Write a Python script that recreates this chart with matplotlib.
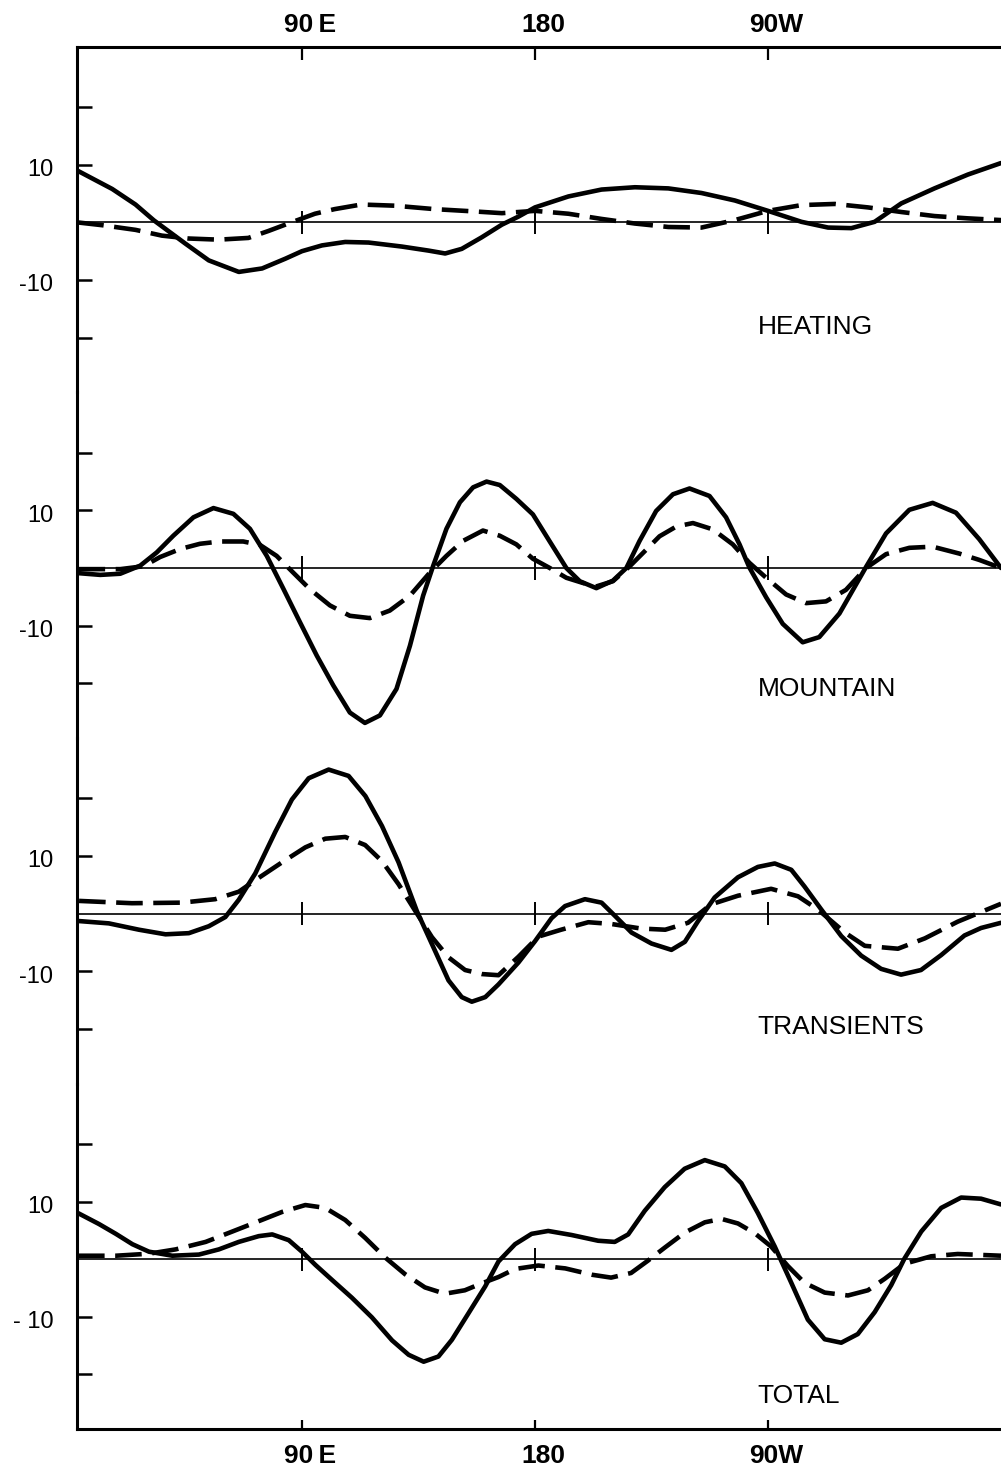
import matplotlib
matplotlib.use("Agg")
import matplotlib.pyplot as plt
from matplotlib.transforms import ScaledTranslation

plt.rcParams['font.family'] = ['Liberation Sans', 'DejaVu Sans']

# ---- axis annotations -------------------------------------------------
lon_ticks = [90, 180, 270]
lon_labels = ['90\u2009E', '180', '90W']
panel_names = ['HEATING', 'MOUNTAIN', 'TRANSIENTS', 'TOTAL']
y_ticks = [-20, -10, 10, 20]
y_labels = ['', '-10', '10', '']
y_labels_bottom = ['', '- 10', '10', '']

# ---- HEATING -----------------------------------------------------------
heating_solid_lon = [3.2, 16.7, 25.7, 32.8, 45, 54, 65.6, 74.6, 83.6, 90,
                     97.7, 106.7, 115.7, 128.6, 138.9, 145.3, 151.7, 159.4, 167.2, 173.6,
                     180, 192.9, 205.7, 218.6, 231.5, 244.3, 257.2, 270, 282.9, 293.2,
                     302.2, 311.2, 321.5, 334.3, 347.2, 360]
heating_solid = [9.0, 5.8, 3.1, 0.35, -3.7, -6.6, -8.6, -8.0, -6.3, -5.0,
                 -4.0, -3.4, -3.5, -4.2, -4.9, -5.4, -4.6, -2.6, -0.4, 1.0,
                 2.6, 4.5, 5.7, 6.1, 5.9, 5.1, 3.8, 2.0, 0.1, -0.9,
                 -1.0, 0.1, 3.3, 5.9, 8.3, 10.3]
heating_dashed_lon = [3.2, 13, 25.7, 35.9, 46.2, 57.8, 69.3, 77, 84.7, 95,
                      102.6, 112.9, 125.7, 141.2, 156.6, 167.2, 180, 192.9, 205.7, 218.6,
                      231.5, 244.3, 257.2, 270, 282.9, 295.8, 308.6, 321.5, 334.3, 347.2,
                      360]
heating_dashed = [0.0, -0.5, -1.3, -2.3, -2.8, -3.0, -2.7, -1.5, -0.2, 1.5,
                  2.3, 3.1, 2.9, 2.3, 1.9, 1.6, 2.0, 1.5, 0.6, -0.2,
                  -0.8, -0.9, 0.4, 2.0, 3.0, 3.2, 2.6, 1.8, 1.1, 0.7,
                  0.4]

# ---- MOUNTAIN ----------------------------------------------------------
mountain_solid_lon = [3.7, 12.1, 19.8, 27.5, 33.9, 40.3, 48.1, 55.8, 63.5, 69.9,
                      76.4, 82.8, 89.2, 95.7, 102.1, 108.5, 114.3, 120.1, 126.5, 131.7,
                      136.8, 140.7, 145.8, 151, 156.1, 161.3, 166.4, 172.8, 179.2, 185.7,
                      192.1, 197.3, 203.7, 210.1, 215.3, 220.4, 226.8, 233.3, 239.7, 247.4,
                      253.8, 259, 262.8, 269.3, 275.7, 283.4, 289.8, 297.6, 307.9, 315.6,
                      324.6, 333.6, 342.6, 351.6, 360]
mountain_solid = [-0.9, -1.2, -1.0, 0.4, 2.7, 5.6, 8.8, 10.4, 9.4, 6.8,
                  2.1, -3.6, -9.4, -15.2, -20.4, -25.1, -26.9, -25.6, -21.0, -13.5,
                  -4.8, 0.4, 6.8, 11.4, 14.0, 15.0, 14.4, 12.0, 9.3, 4.6,
                  0.0, -2.3, -3.5, -2.2, 0.0, 4.7, 9.9, 12.8, 13.8, 12.5,
                  8.8, 4.1, 0.1, -5.1, -9.7, -12.9, -12.0, -7.9, 0.2, 6.0,
                  10.1, 11.3, 9.6, 5.0, 0.0]
mountain_dashed_lon = [3.7, 19.8, 28.8, 35.2, 43, 50.6, 58.3, 67.3, 73.8, 80.2,
                       86.6, 93.1, 100.8, 108.5, 116.2, 123.9, 131.7, 139.4, 145.8, 152.2,
                       159.9, 166.4, 172.8, 179.2, 185.7, 192.1, 198.5, 203.7, 210.1, 216.6,
                       221.7, 228.1, 234.6, 241, 248.7, 256.4, 262.8, 269.3, 277, 284.7,
                       292.4, 300.1, 307.9, 315.6, 324.6, 333.6, 343.9, 351.6, 360]
mountain_dashed = [-0.2, -0.2, 0.3, 1.9, 3.3, 4.2, 4.6, 4.6, 4.0, 2.1,
                   -0.8, -3.7, -6.5, -8.3, -8.7, -7.4, -4.8, -0.8, 2.1, 4.7,
                   6.5, 5.6, 4.1, 1.6, 0.0, -1.7, -2.6, -3.2, -2.3, 0.3,
                   2.6, 5.5, 7.2, 7.8, 6.7, 4.1, 0.9, -1.7, -4.6, -6.1,
                   -5.8, -3.8, 0.0, 2.4, 3.5, 3.7, 2.5, 1.4, 0.0]

# ---- TRANSIENTS --------------------------------------------------------
transients_solid_lon = [3.9, 15.4, 27, 37.3, 46.3, 54, 60.4, 65.6, 72, 79.7,
                        86.1, 92.6, 100.3, 108, 114.5, 120.9, 127.3, 134.4, 140.2, 146.6,
                        151.7, 155.6, 160.8, 165.9, 173.6, 180, 186.4, 191.6, 199.3, 205.7,
                        210.9, 217.3, 225, 232.7, 237.9, 243, 249.4, 258.4, 266.1, 272.6,
                        279, 284.1, 290.6, 298.3, 306, 313.7, 321.4, 329.1, 336.9, 345.9,
                        352.3, 360]
transients_solid = [-1.3, -1.7, -2.8, -3.6, -3.4, -2.2, -0.6, 2.4, 7.0, 14.2,
                    19.8, 23.5, 25.0, 23.9, 20.4, 15.2, 8.9, 0.4, -5.3, -11.6,
                    -14.5, -15.3, -14.5, -12.3, -8.5, -4.8, -0.8, 1.3, 2.5, 1.9,
                    -0.4, -3.3, -5.2, -6.3, -4.9, -1.3, 2.8, 6.3, 8.1, 8.7,
                    7.6, 4.7, 0.7, -3.9, -7.3, -9.6, -10.6, -9.8, -7.2, -3.8,
                    -2.5, -1.6]
transients_dashed_lon = [3.9, 24.3, 43.6, 56.5, 65.6, 73.3, 82.3, 91.3, 99, 106.7,
                         114.4, 120.9, 127.3, 133.7, 140.2, 146.6, 153, 159.5, 165.9, 173.6,
                         181.3, 190.1, 200.6, 209.4, 221, 230.3, 239.1, 248, 258.4, 271.2,
                         281.6, 289.3, 299.7, 307.4, 320.2, 330.6, 343.3, 360]
transients_dashed = [2.2, 1.8, 1.9, 2.5, 3.8, 6.2, 8.9, 11.5, 13.0, 13.3,
                     11.9, 9.1, 5.1, 0.5, -4.1, -7.6, -9.8, -10.5, -10.7, -7.5,
                     -4.0, -2.8, -1.5, -1.8, -2.6, -2.8, -1.6, 1.6, 3.1, 4.3,
                     3.0, 0.7, -3.3, -5.6, -6.1, -4.3, -1.4, 1.7]

# ---- TOTAL -------------------------------------------------------------
total_solid_lon = [3.5, 11.6, 18.1, 24.5, 30.9, 39.9, 50.2, 57.9, 65.6, 73.3,
                   78.5, 84.9, 90, 95.2, 101.6, 109.3, 117, 124.8, 131.2, 137,
                   142.7, 147.9, 154.3, 160.8, 165.9, 172.3, 178.7, 185.1, 194.1, 204.4,
                   210.8, 216, 222.4, 230.1, 237.8, 245.6, 253.3, 259.7, 266.1, 272.6,
                   279, 285.4, 291.9, 298.3, 304.7, 311.2, 317.6, 322.7, 329.2, 336.9,
                   344.6, 352.3, 360]
total_solid = [8.0, 6.1, 4.4, 2.6, 1.3, 0.6, 0.8, 1.7, 3.0, 4.0,
               4.3, 3.3, 1.3, -1.0, -3.6, -6.7, -10.1, -14.1, -16.6, -17.8,
               -16.9, -14.0, -9.4, -4.7, -0.4, 2.6, 4.4, 4.9, 4.2, 3.2,
               3.0, 4.3, 8.4, 12.5, 15.7, 17.2, 16.1, 13.2, 8.0, 2.2,
               -4.1, -10.5, -13.9, -14.5, -13.0, -9.2, -4.5, 0.1, 4.8, 8.9,
               10.7, 10.5, 9.5]
total_dashed_lon = [3.5, 18.1, 30.9, 41.2, 52.8, 63.1, 73.3, 82.3, 91.3, 99,
                    106.7, 114.4, 122.1, 129.8, 137.5, 145.2, 152.9, 159.4, 165.9, 172.3,
                    181.3, 191.7, 202, 209.4, 217.1, 223.5, 230.1, 237.8, 245.6, 252,
                    258.4, 264.9, 271.2, 277.7, 284.1, 291.9, 300.9, 308.6, 315.1, 322.7,
                    333, 343.3, 360]
total_dashed = [0.6, 0.6, 0.95, 1.7, 3.0, 4.8, 6.6, 8.2, 9.4, 8.9,
                6.8, 3.7, 0.3, -2.6, -4.9, -6.0, -5.4, -4.2, -3.1, -1.7,
                -1.1, -1.6, -2.7, -3.2, -2.4, -0.3, 2.0, 4.6, 6.4, 7.0,
                6.2, 4.5, 2.2, -1.2, -4.1, -5.8, -6.3, -5.4, -3.4, -0.8,
                0.5, 0.9, 0.6]

panels = [
    (heating_solid_lon, heating_solid, heating_dashed_lon, heating_dashed),
    (mountain_solid_lon, mountain_solid, mountain_dashed_lon, mountain_dashed),
    (transients_solid_lon, transients_solid, transients_dashed_lon, transients_dashed),
    (total_solid_lon, total_solid, total_dashed_lon, total_dashed),
]
name_y = [-18.2, -21.0, -19.7, -23.7]

# ---- figure layout: four stacked panels sharing one frame --------------
W, H = 1001, 1476
fig = plt.figure(figsize=(W / 100, H / 100), dpi=100)
left = 77 / W
top = 1 - 46.7 / H
ph = 345.6 / H

xshift = ScaledTranslation(8 / 100, 0, fig.dpi_scale_trans)
yshift = ScaledTranslation(0, -3 / 100, fig.dpi_scale_trans)

for i, (sl, sv, dl, dv) in enumerate(panels):
    ax = fig.add_axes([left, top - (i + 1) * ph, 1 - left, ph])
    ax.set_facecolor('none')
    ax.set_xlim(3.1, 360)
    ax.set_ylim(-29.5, 30.5)

    ax.spines['right'].set_visible(False)
    ax.spines['top'].set_visible(i == 0)
    ax.spines['bottom'].set_visible(i == 3)
    for s in ax.spines.values():
        s.set_linewidth(2.2)

    # zero line with longitude crosses
    ax.axhline(0, color='black', lw=1.2, zorder=1)
    ax.vlines(lon_ticks, -2.0, 2.0, color='black', lw=1.4, zorder=1)

    ax.plot(sl, sv, color='black', lw=3.3, solid_joinstyle='round',
            solid_capstyle='round', zorder=3)
    ax.plot(dl, dv, color='black', lw=3.3, linestyle=(0, (5.8, 2.3)),
            dash_joinstyle='round', zorder=3)

    ax.set_yticks(y_ticks)
    ax.set_yticklabels(y_labels_bottom if i == 3 else y_labels)
    ax.tick_params(axis='y', direction='in', length=10.8, width=1.8,
                   pad=17, labelsize=17, right=False)
    for lab in ax.get_yticklabels():
        lab.set_transform(lab.get_transform() + yshift)

    if i == 0:
        ax.set_xticks(lon_ticks)
        ax.set_xticklabels(lon_labels)
        ax.tick_params(axis='x', direction='in', length=9.4, width=1.6,
                       top=True, bottom=False, labeltop=True, labelbottom=False,
                       pad=7, labelsize=19)
        for lab in ax.get_xticklabels():
            lab.set_fontweight('bold')
            lab.set_transform(lab.get_transform() + xshift)
    elif i == 3:
        ax.set_xticks(lon_ticks)
        ax.set_xticklabels(lon_labels)
        ax.tick_params(axis='x', direction='in', length=6.5, width=1.6,
                       top=False, bottom=True, pad=11, labelsize=19)
        for lab in ax.get_xticklabels():
            lab.set_fontweight('bold')
            lab.set_transform(lab.get_transform() + xshift)
    else:
        ax.set_xticks([])

    ax.text(266, name_y[i], panel_names[i], fontsize=19, ha='left', va='center')

fig.savefig('out.png', dpi=100)
